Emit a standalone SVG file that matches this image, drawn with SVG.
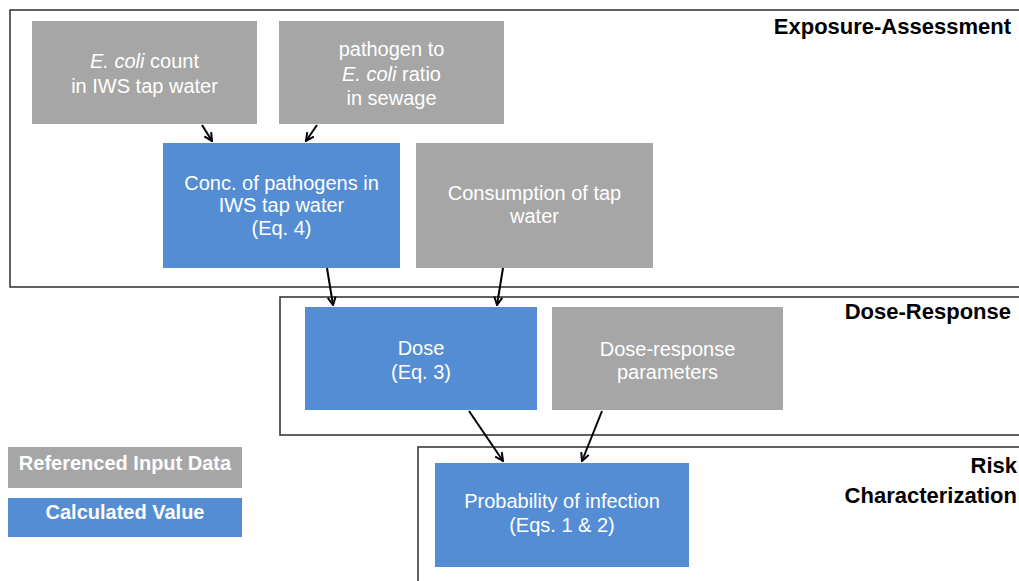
<svg xmlns="http://www.w3.org/2000/svg" width="1019" height="581" viewBox="0 0 1019 581">
<style>
.frame{fill:none;stroke:#3a3a3a;stroke-width:1.6}
.gray{fill:#a6a6a6}
.blue{fill:#548dd4}
.t{font-family:"Liberation Sans",Arial,sans-serif;font-size:20px;fill:#ffffff;text-anchor:middle}
.lg{font-family:"Liberation Sans",Arial,sans-serif;font-size:20px;font-weight:bold;fill:#ffffff;text-anchor:middle}
.h{font-family:"Liberation Sans",Arial,sans-serif;font-size:22px;font-weight:bold;fill:#000000;text-anchor:end}
.c{stroke:#000;stroke-width:2;fill:none;marker-end:url(#arr)}
</style>
<defs>
<marker id="arr" viewBox="0 0 10 10" refX="9" refY="5" markerWidth="10" markerHeight="10" markerUnits="userSpaceOnUse" orient="auto">
<path d="M1,1 L9,5 L1,9" fill="none" stroke="#000" stroke-width="2"/>
</marker>
</defs>
<rect width="1019" height="581" fill="#ffffff"/>
<g id="stages">
<rect class="frame" x="10" y="10" width="1020" height="277"/>
<text class="h" x="1011" y="34">Exposure-Assessment</text>
<rect class="frame" x="280" y="297" width="750" height="138"/>
<text class="h" x="1011" y="319">Dose-Response</text>
<rect class="frame" x="418" y="447" width="620" height="150"/>
<text class="h" x="1017" y="473">Risk</text>
<text class="h" x="1017" y="503">Characterization</text>
</g>
<g id="n-ecoli">
<rect class="gray" x="32" y="21" width="225" height="103"/>
<text class="t" x="144.5" y="68"><tspan font-style="italic">E. coli</tspan> count</text>
<text class="t" x="144.5" y="93">in IWS tap water</text>
</g>
<g id="n-ratio">
<rect class="gray" x="279" y="21" width="225" height="103"/>
<text class="t" x="391.5" y="56">pathogen to</text>
<text class="t" x="391.5" y="80.5"><tspan font-style="italic">E. coli</tspan> ratio</text>
<text class="t" x="391.5" y="105">in sewage</text>
</g>
<g id="n-conc">
<rect class="blue" x="163" y="143" width="237" height="125"/>
<text class="t" x="281.5" y="189.5">Conc. of pathogens in</text>
<text class="t" x="281.5" y="212">IWS tap water</text>
<text class="t" x="281.5" y="234.5">(Eq. 4)</text>
</g>
<g id="n-consumption">
<rect class="gray" x="416" y="143" width="237" height="125"/>
<text class="t" x="534.5" y="200">Consumption of tap</text>
<text class="t" x="534.5" y="222.5">water</text>
</g>
<g id="n-dose">
<rect class="blue" x="305" y="307" width="232" height="103"/>
<text class="t" x="421" y="355">Dose</text>
<text class="t" x="421" y="379">(Eq. 3)</text>
</g>
<g id="n-params">
<rect class="gray" x="552" y="307" width="231" height="103"/>
<text class="t" x="667.5" y="356">Dose-response</text>
<text class="t" x="667.5" y="379">parameters</text>
</g>
<g id="n-prob">
<rect class="blue" x="435" y="463" width="254" height="104"/>
<text class="t" x="562" y="508">Probability of infection</text>
<text class="t" x="562" y="532">(Eqs. 1 &amp; 2)</text>
</g>
<g id="legend">
<rect class="gray" x="8" y="447" width="234" height="41"/>
<text class="lg" x="125" y="470">Referenced Input Data</text>
<rect class="blue" x="8" y="498" width="234" height="39"/>
<text class="lg" x="125" y="519">Calculated Value</text>
</g>
<g id="connectors">
<line class="c" x1="202" y1="125" x2="212" y2="141"/>
<line class="c" x1="317" y1="125" x2="306" y2="141"/>
<line class="c" x1="327" y1="268" x2="333" y2="305"/>
<line class="c" x1="503" y1="268" x2="497" y2="305"/>
<line class="c" x1="469" y1="411" x2="503" y2="461"/>
<line class="c" x1="602" y1="411" x2="582" y2="461"/>
</g>
</svg>
